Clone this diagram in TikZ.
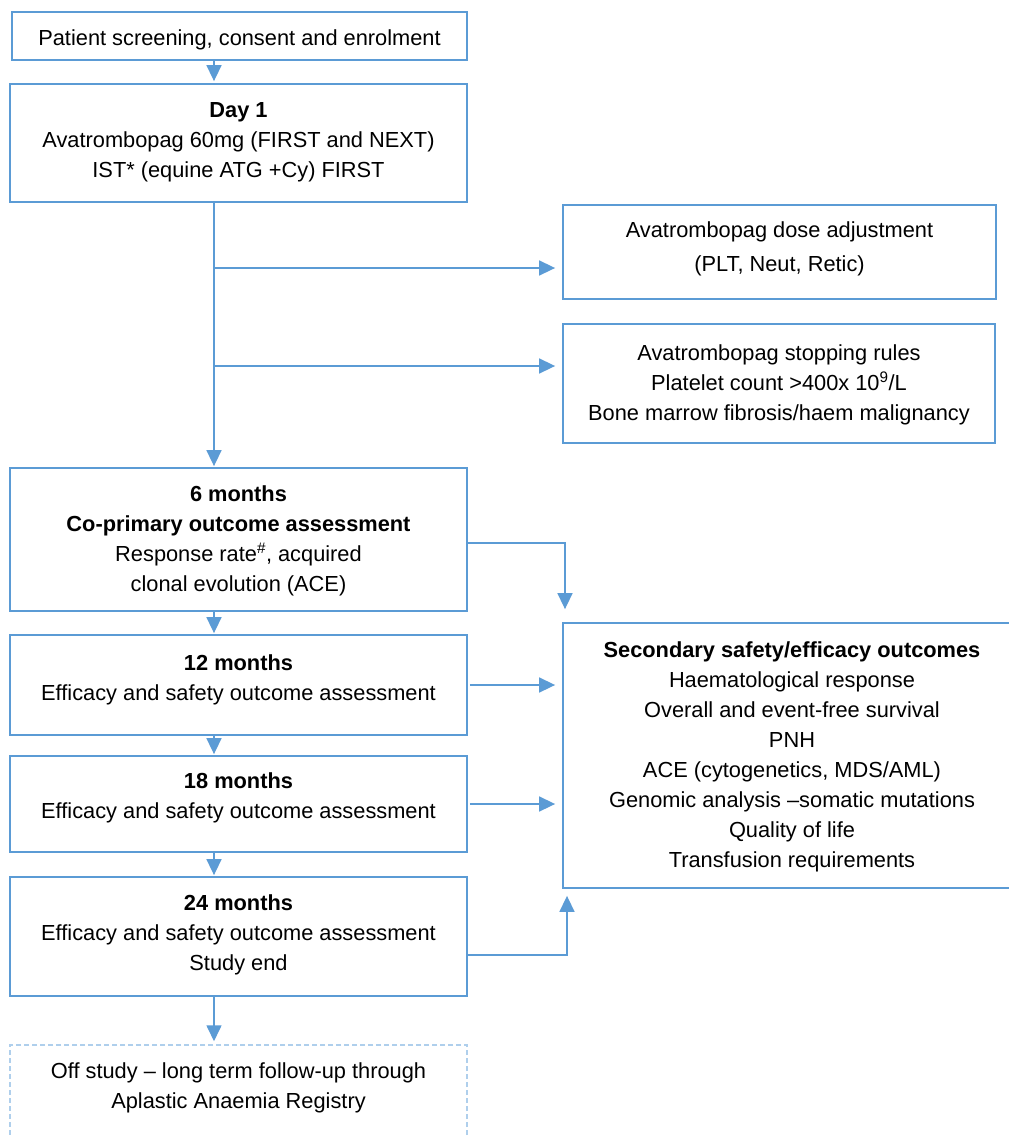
\documentclass[tikz,border=0pt]{standalone}
\usepackage{fontspec}
\setmainfont{Liberation Sans}
\usetikzlibrary{arrows.meta,calc}
\definecolor{cblue}{HTML}{5B9BD5}
\definecolor{clight}{HTML}{AFCFEC}
\begin{document}
\begin{tikzpicture}[x=1pt,y=1pt,
  box/.style={draw=cblue, line width=1.8pt, rectangle, inner sep=0pt},
  dbox/.style={draw=clight, line width=1.5pt, dash pattern=on 5pt off 3pt, rectangle, inner sep=0pt},
  txt/.style={align=center, font=\fontsize{21.8}{30}\selectfont, inner sep=0pt, anchor=north},
  arr/.style={draw=cblue, line width=1.6pt, -{Triangle[length=16pt,width=15pt]}},
]
\useasboundingbox (0,0) rectangle (1009,-1136);
\clip (0,0) rectangle (1009,-1136);
\fill[white] (0,0) rectangle (1009,-1136);

% boxes
\node[box, minimum width=455, minimum height=48]  (b1)  at (239.5,-36) {};
\node[box, minimum width=457, minimum height=118] (b2)  at (238.5,-143) {};
\node[box, minimum width=433, minimum height=94]  (b3)  at (779.5,-252) {};
\node[box, minimum width=432, minimum height=119] (b4)  at (779,-383.5) {};
\node[box, minimum width=457, minimum height=143] (b5)  at (238.5,-539.5) {};
\node[box, minimum width=457, minimum height=100] (b6)  at (238.5,-685) {};
\node[box, minimum width=457, minimum height=96]  (b7)  at (238.5,-804) {};
\node[box, minimum width=457, minimum height=119] (b8)  at (238.5,-936.5) {};
\node[dbox, minimum width=457, minimum height=105] (b9) at (238.5,-1097.5) {};
\node[box, minimum width=458, minimum height=265] (sec) at (792,-755.5) {};

% texts
\node[txt] (t1) at (239.5,-29) {Patient screening, consent and enrolment};
\node[txt] (t2) at (238.5,-102) {\textbf{Day 1}\\Avatrombopag 60mg (FIRST and NEXT)\\IST* (equine ATG +Cy) FIRST};
\node[txt] (t3) at (779.5,-221) {Avatrombopag dose adjustment\\[4pt](PLT, Neut, Retic)};
\node[txt] (t4) at (779,-344) {Avatrombopag stopping rules\\Platelet count >400x 10\textsuperscript{9}/L\\Bone marrow fibrosis/haem malignancy};
\node[txt] (t5) at (238.5,-485) {\textbf{6 months}\\\textbf{Co-primary outcome assessment}\\Response rate\textsuperscript{\#}, acquired\\clonal evolution (ACE)};
\node[txt] (t6) at (238.5,-654) {\textbf{12 months}\\Efficacy and safety outcome assessment};
\node[txt] (t7) at (238.5,-772) {\textbf{18 months}\\Efficacy and safety outcome assessment};
\node[txt] (t8) at (238.5,-894) {\textbf{24 months}\\Efficacy and safety outcome assessment\\Study end};
\node[txt] (t9) at (238.5,-1062) {Off study – long term follow-up through\\Aplastic Anaemia Registry};
\node[txt] (ts) at (792,-641) {\textbf{Secondary safety/efficacy outcomes}\\Haematological response\\Overall and event-free survival\\PNH\\ACE (cytogenetics, MDS/AML)\\Genomic analysis –somatic mutations\\Quality of life\\Transfusion requirements};

% helper coordinates
\coordinate (tx) at (214,0);
\coordinate (sx) at (565,0);
\coordinate (sx2) at (567,0);
\coordinate (br1) at (214,-268);
\coordinate (br2) at (214,-366);

% connectors
\draw[arr, shorten >=2pt] (b1.south -| tx) -- (b2.north -| tx);
\draw[arr, shorten >=1pt] (b2.south -| tx) -- (b5.north -| tx);
\draw[arr, shorten >=7pt] (br1) -- (br1 -| b3.west);
\draw[arr, shorten >=7pt] (br2) -- (br2 -| b4.west);
\draw[arr, shorten >=1pt] (b5.south -| tx) -- (b6.north -| tx);
\draw[arr, shorten >=1pt] (b6.south -| tx) -- (b7.north -| tx);
\draw[arr, shorten >=1pt] (b7.south -| tx) -- (b8.north -| tx);
\draw[arr, shorten >=3pt] (b8.south -| tx) -- (b9.north -| tx);
\draw[arr, shorten >=13pt] ($(b5.east)+(0,-3.5)$) -| (sec.north -| sx);
\draw[arr, shorten <=2pt, shorten >=7pt] (b6.east) -- (b6.east -| sec.west);
\draw[arr, shorten <=2pt, shorten >=7pt] (b7.east) -- (b7.east -| sec.west);
\draw[arr, shorten >=7pt] ($(b8.east)+(0,-18.5)$) -| (sec.south -| sx2);
\end{tikzpicture}
\end{document}
